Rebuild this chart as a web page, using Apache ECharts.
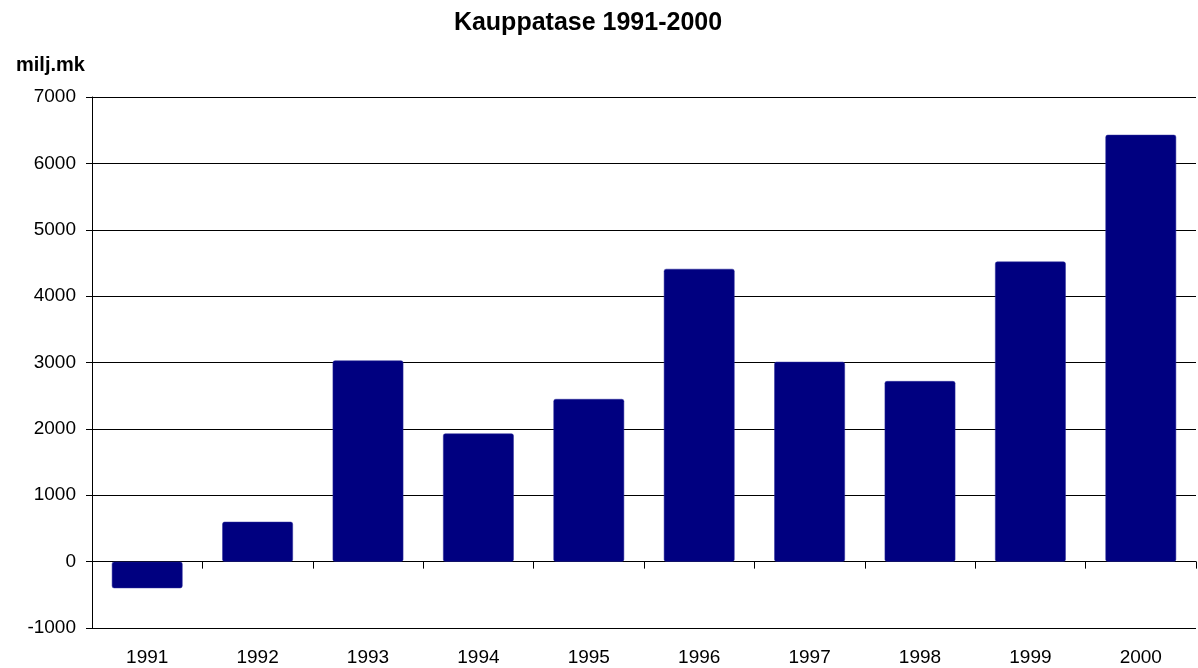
<!DOCTYPE html>
<html>
<head>
<meta charset="utf-8">
<script src="https://cdn.jsdelivr.net/npm/echarts@6/dist/echarts.min.js"></script>
<style>
html,body{margin:0;padding:0;background:#fff;}
#chart{width:1198px;height:668px;}
</style>
</head>
<body>
<div id="chart"></div>
<script>
const categories = ['1991','1992','1993','1994','1995','1996','1997','1998','1999','2000'];
const values = [-400, 600, 3030, 1930, 2450, 4410, 3010, 2720, 4520, 6430];
const yTicks = { min: -1000, max: 7000, interval: 1000 };
const titleText = 'Kauppatase 1991-2000';
const unitText = 'milj.mk';

const chart = echarts.init(document.getElementById('chart'), null, { renderer: 'canvas' });
const fontFam = 'Liberation Sans, Arial, sans-serif';
chart.setOption({
  animation: false,
  backgroundColor: '#ffffff',
  title: [{
    text: titleText,
    left: 583, top: 6, textAlign: 'center',
    textStyle: { fontFamily: fontFam, fontWeight: 'bold', fontSize: 25, color: '#000' }
  }, {
    text: unitText,
    left: 11, top: 50,
    textStyle: { fontFamily: fontFam, fontWeight: 'bold', fontSize: 20, color: '#000' }
  }],
  grid: { left: 92, right: 2, top: 97, bottom: 40, containLabel: false },
  xAxis: [{
    type: 'category',
    data: categories,
    boundaryGap: true,
    axisLine: { show: true, onZero: true, lineStyle: { color: '#000', width: 1 } },
    axisTick: { show: true, inside: false, length: 7, alignWithLabel: false, lineStyle: { color: '#000' } },
    axisLabel: { show: false },
    splitLine: { show: false }
  }, {
    type: 'category',
    data: categories,
    position: 'bottom',
    boundaryGap: true,
    axisLine: { show: false, onZero: false },
    axisTick: { show: false },
    axisLabel: { show: true, margin: 20, fontFamily: fontFam, fontSize: 19, color: '#000' },
    splitLine: { show: false }
  }],
  yAxis: {
    type: 'value',
    min: yTicks.min, max: yTicks.max, interval: yTicks.interval,
    axisLine: { show: true, lineStyle: { color: '#000', width: 1 } },
    axisTick: { show: true, inside: false, length: 6, lineStyle: { color: '#000' } },
    axisLabel: { margin: 16, fontFamily: fontFam, fontSize: 19, color: '#000', formatter: function (v) { return String(v); } },
    splitLine: { show: true, lineStyle: { color: '#000', width: 1 } }
  },
  series: [{
    type: 'bar',
    xAxisIndex: 0,
    data: values,
    barWidth: '64%',
    itemStyle: { color: '#000080', borderRadius: 2, borderColor: '#2a2a9a', borderWidth: 0.5 }
  }]
});
</script>
</body>
</html>
